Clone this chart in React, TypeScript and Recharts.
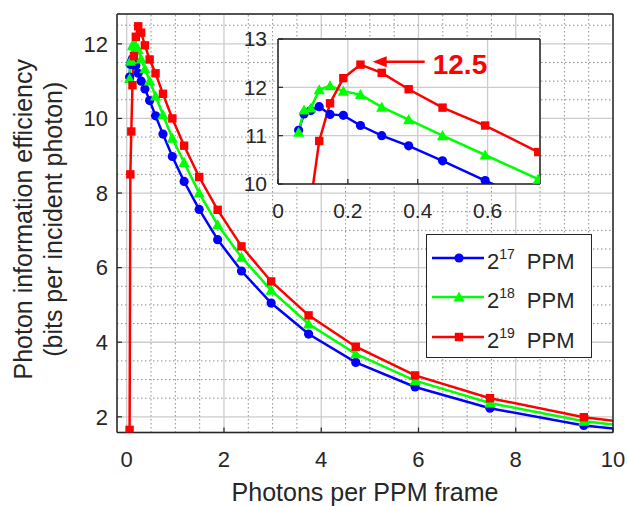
import React from 'react';
import { LineChart, Line, XAxis, YAxis, CartesianGrid, Legend, ReferenceLine, Label } from 'recharts';

// photons per PPM frame (same sample points for all three orders)
const photons = [0.059, 0.0745, 0.094, 0.118, 0.149, 0.187, 0.236, 0.297, 0.374, 0.471, 0.593, 0.745, 0.938, 1.18, 1.49, 1.87, 2.36, 2.97, 3.74, 4.71, 5.93, 7.47, 9.4, 11.8];
// bits per incident photon
const ppm17 = [11.11, 11.45, 11.52, 11.6, 11.44, 11.42, 11.21, 11.0, 10.79, 10.48, 10.07, 9.58, 8.98, 8.31, 7.56, 6.75, 5.91, 5.05, 4.22, 3.46, 2.8, 2.23, 1.77, 1.44];
const ppm18 = [11.07, 11.53, 11.57, 11.95, 12.03, 11.92, 11.85, 11.59, 11.33, 11.0, 10.6, 10.1, 9.47, 8.82, 8.0, 7.15, 6.28, 5.39, 4.49, 3.69, 2.97, 2.37, 1.88, 1.55];
const ppm19 = [1.65, 8.5, 9.65, 10.89, 11.67, 12.19, 12.47, 12.3, 11.96, 11.58, 11.21, 10.66, 10.0, 9.27, 8.43, 7.55, 6.57, 5.63, 4.72, 3.88, 3.11, 2.5, 1.99, 1.62];

const mainXDomain = [-0.2, 10];
const mainYDomain = [1.58, 12.8];
const mainXTicks = [0, 2, 4, 6, 8, 10];
const mainYTicks = [2, 4, 6, 8, 10, 12];
const mainXMinor = [0.5, 1, 1.5, 2.5, 3, 3.5, 4.5, 5, 5.5, 6.5, 7, 7.5, 8.5, 9, 9.5];
const mainYMinor = [2.5, 3, 3.5, 4.5, 5, 5.5, 6.5, 7, 7.5, 8.5, 9, 9.5, 10.5, 11, 11.5, 12.5];

const insetXTicks = [0, 0.2, 0.4, 0.6];
const insetYTicks = [10, 11, 12, 13];

const peakLabel = '12.5';
const arrowFrom = { x: 0.271, y: 12.53 };
const arrowTo = { x: 0.42, y: 12.53 };

const series = [
  { key: 'p17', exp: '17', color: '#0000ff', marker: 'circle' },
  { key: 'p18', exp: '18', color: '#00ff00', marker: 'triangle' },
  { key: 'p19', exp: '19', color: '#ff0000', marker: 'square' },
];

const rows = photons.map((x, i) => ({ x, p17: ppm17[i], p18: ppm18[i], p19: ppm19[i] }));

const FONT = '"Liberation Sans", Arial, sans-serif';
const INK = '#262626';

function Marker({ cx, cy, kind, color }: { cx?: number; cy?: number; kind: string; color: string }) {
  if (cx == null || cy == null || isNaN(cx) || isNaN(cy)) return null;
  if (kind === 'circle') return <circle cx={cx} cy={cy} r={4.6} fill={color} />;
  if (kind === 'triangle') {
    const s = 5.6;
    return <polygon points={`${cx},${cy - s} ${cx + s},${cy + s * 0.8} ${cx - s},${cy + s * 0.8}`} fill={color} />;
  }
  return <rect x={cx - 4.2} y={cy - 4.2} width={8.4} height={8.4} fill={color} />;
}

function dotFor(kind: string, color: string) {
  return (p: any) => <Marker key={`${kind}-${p.index}`} cx={p.cx} cy={p.cy} kind={kind} color={color} />;
}

// dotted minor grid line
function MinorLine(p: any) {
  return <line x1={p.x1} y1={p.y1} x2={p.x2} y2={p.y2} stroke="#8f8f8f" strokeWidth={1} strokeDasharray="1.5 2.5" />;
}

function LegendBox() {
  return (
    <div style={{ width: 166, height: 124, boxSizing: 'border-box', border: `1.5px solid ${INK}`, background: '#fff', paddingTop: 3, fontFamily: FONT, color: INK }}>
      {series.map(s => (
        <div key={s.key} style={{ display: 'flex', alignItems: 'center', height: 39.5 }}>
          <svg width={60} height={18} style={{ display: 'block', flex: 'none' }}>
            <line x1={5} x2={57} y1={9} y2={9} stroke={s.color} strokeWidth={2.5} />
            <Marker cx={32} cy={9} kind={s.marker} color={s.color} />
          </svg>
          <span style={{ fontSize: 22, lineHeight: '22px', marginTop: 10, whiteSpace: 'nowrap' }}>
            2<span style={{ fontSize: 14, position: 'relative', top: -10 }}>{s.exp}</span>
            <span style={{ marginLeft: 12 }}>PPM</span>
          </span>
        </div>
      ))}
    </div>
  );
}

function YTitle(props: any) {
  const vb = props.viewBox || { x: 0, y: 0, width: 0, height: 0 };
  const cy = vb.y + vb.height / 2 - 4;
  return (
    <g fill={INK} fontSize={25} fontFamily={FONT}>
      <text x={23} y={cy} transform={`rotate(-90 23 ${cy})`} textAnchor="middle" dominantBaseline="central">Photon information efficiency</text>
      <text x={53} y={cy} transform={`rotate(-90 53 ${cy})`} textAnchor="middle" dominantBaseline="central">(bits per incident photon)</text>
    </g>
  );
}

function XTitle(props: any) {
  const vb = props.viewBox || { x: 0, y: 0, width: 0, height: 0 };
  return (
    <text x={vb.x + vb.width / 2} y={501} fill={INK} fontSize={25} fontFamily={FONT} textAnchor="middle">Photons per PPM frame</text>
  );
}

function PeakArrow(props: any) {
  const tipX = Math.min(props.x1, props.x2);
  const tailX = Math.max(props.x1, props.x2);
  const y = props.y1;
  return (
    <g>
      <line x1={tipX + 12} x2={tailX} y1={y} y2={y} stroke="#ff0000" strokeWidth={2.5} />
      <polygon points={`${tipX},${y} ${tipX + 14},${y - 5.5} ${tipX + 14},${y + 5.5}`} fill="#ff0000" />
      <text x={tailX + 8} y={y + 3} fill="#ff0000" fontSize={28} fontWeight="bold" fontFamily={FONT} dominantBaseline="central">{peakLabel}</text>
    </g>
  );
}

const axisLine = { stroke: INK, strokeWidth: 1.5 };
const tickLine = { stroke: INK, strokeWidth: 1.2 };

function renderLines() {
  return series.map(s => (
    <Line
      key={s.key}
      dataKey={s.key}
      type="linear"
      stroke={s.color}
      strokeWidth={2.5}
      dot={dotFor(s.marker, s.color)}
      activeDot={false}
      isAnimationActive={false}
    />
  ));
}

export default function App() {
  return (
    <div style={{ position: 'absolute', left: 0, top: 0, width: 629, height: 506, background: '#fff', fontFamily: FONT }}>
      <LineChart width={629} height={506} data={rows} margin={{ top: 13, right: 15, bottom: 0, left: 0 }}>
        <CartesianGrid stroke="#cccccc" strokeWidth={1.3} />
        {mainXMinor.map(v => (
          <ReferenceLine key={`mx${v}`} segment={[{ x: v, y: mainYDomain[0] }, { x: v, y: mainYDomain[1] }]} ifOverflow="visible" shape={MinorLine} />
        ))}
        {mainYMinor.map(v => (
          <ReferenceLine key={`my${v}`} segment={[{ x: mainXDomain[0], y: v }, { x: mainXDomain[1], y: v }]} ifOverflow="visible" shape={MinorLine} />
        ))}
        <XAxis dataKey="x" type="number" domain={mainXDomain} allowDataOverflow ticks={mainXTicks} interval={0}
          height={73.5} tickSize={-5} tickMargin={24} axisLine={axisLine} tickLine={tickLine}
          tick={{ fill: INK, fontSize: 22, fontFamily: FONT }}>
          <Label content={XTitle} />
        </XAxis>
        <XAxis xAxisId="top" orientation="top" type="number" domain={mainXDomain} allowDataOverflow ticks={mainXTicks} interval={0}
          height={1} tickSize={-5} tick={false} axisLine={axisLine} tickLine={tickLine} />
        <YAxis type="number" domain={mainYDomain} allowDataOverflow ticks={mainYTicks} interval={0}
          width={117} tickSize={-5} tickMargin={14} axisLine={axisLine} tickLine={tickLine}
          tick={{ fill: INK, fontSize: 22, fontFamily: FONT }}>
          <Label content={YTitle} />
        </YAxis>
        <YAxis yAxisId="right" orientation="right" type="number" domain={mainYDomain} allowDataOverflow ticks={mainYTicks} interval={0}
          width={1} tickSize={-5} tick={false} axisLine={axisLine} tickLine={tickLine} />
        {renderLines()}
        <Legend layout="horizontal" verticalAlign="middle" align="center" content={LegendBox}
          wrapperStyle={{ left: 426, top: 234, width: 166, height: 124 }} />
      </LineChart>

      <div style={{ position: 'absolute', left: 228, top: 23 }}>
        <LineChart width={322} height={201} data={rows} margin={{ top: 15, right: 9, bottom: 0, left: 0 }}>
          <CartesianGrid stroke="#cccccc" strokeWidth={1.3} fill="#ffffff" fillOpacity={1} />
          <XAxis dataKey="x" type="number" domain={[0, 0.75]} allowDataOverflow ticks={insetXTicks} interval={0}
            height={40} tickSize={-5} tickMargin={24} axisLine={axisLine} tickLine={tickLine}
            tick={{ fill: INK, fontSize: 21, fontFamily: FONT }} />
          <XAxis xAxisId="top" orientation="top" type="number" domain={[0, 0.75]} allowDataOverflow ticks={insetXTicks} interval={0}
            height={1} tickSize={-5} tick={false} axisLine={axisLine} tickLine={tickLine} />
          <YAxis type="number" domain={[10, 13]} allowDataOverflow ticks={insetYTicks} interval={0}
            width={50} tickSize={-5} tickMargin={16} axisLine={axisLine} tickLine={tickLine}
            tick={{ fill: INK, fontSize: 21, fontFamily: FONT }} />
          <YAxis yAxisId="right" orientation="right" type="number" domain={[10, 13]} allowDataOverflow ticks={insetYTicks} interval={0}
            width={1} tickSize={-5} tick={false} axisLine={axisLine} tickLine={tickLine} />
          {renderLines()}
          <ReferenceLine segment={[arrowFrom, arrowTo]} ifOverflow="visible" shape={PeakArrow} />
        </LineChart>
      </div>
    </div>
  );
}
